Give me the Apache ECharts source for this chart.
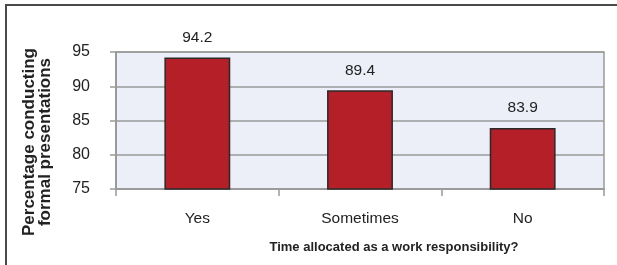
<!DOCTYPE html>
<html><head><meta charset="utf-8">
<script src="https://cdn.jsdelivr.net/npm/echarts@6/dist/echarts.min.js"></script>
<style>html,body{margin:0;padding:0;background:#fff;overflow:hidden;}#c{width:617px;height:265px;}</style>
</head><body><div id="c"></div>
<script>
const categories = ['Yes', 'Sometimes', 'No'];
const values = [94.2, 89.4, 83.9];
const yTicks = [75, 80, 85, 90, 95];
const yTitle = 'Percentage conducting\nformal presentations';
const xTitle = 'Time allocated as a work responsibility?';

const chart = echarts.init(document.getElementById('c'), null, {renderer: 'canvas'});
const ff = '"Liberation Sans", Arial, sans-serif';
chart.setOption({
  animation: false,
  grid: {left: 116, right: 13, top: 52, bottom: 76, show: true, backgroundColor: '#eceff7', borderColor: '#9a9a9a', borderWidth: 1.5},
  xAxis: {
    type: 'category', data: categories,
    axisLine: {lineStyle: {color: '#9a9a9a', width: 2}},
    axisTick: {show: true, length: 7, interval: 0, lineStyle: {color: '#9a9a9a', width: 1.5}},
    axisLabel: {color: '#222', fontFamily: ff, fontSize: 15.5, margin: 22}
  },
  yAxis: {
    type: 'value', min: yTicks[0], max: yTicks[yTicks.length - 1], interval: 5,
    axisLine: {show: true, lineStyle: {color: '#9a9a9a', width: 2}},
    axisTick: {show: true, length: 6, lineStyle: {color: '#9a9a9a', width: 1.5}},
    axisLabel: {color: '#222', fontFamily: ff, fontSize: 16, margin: 26},
    splitLine: {show: true, lineStyle: {color: '#9a9a9a', width: 1.5}}
  },
  series: [{
    type: 'bar', data: values, barWidth: '40.5%',
    itemStyle: {color: '#b51f28', borderColor: '#2a2a2a', borderWidth: 1.5},
    label: {show: true, position: 'top', distance: 12, color: '#222', fontFamily: ff, fontSize: 15.5}
  }],
  graphic: [
    {type: 'polyline', shape: {points: [[6, 270], [6, 5], [620, 5]]}, style: {fill: null, stroke: '#4a4a4a', lineWidth: 2}, silent: true},
    {type: 'text', x: 37, y: 142, rotation: Math.PI / 2, style: {text: yTitle, align: 'center', verticalAlign: 'middle', font: 'bold 17px "Liberation Sans", Arial, sans-serif', lineHeight: 16, fill: '#222'}},
    {type: 'text', x: 394, y: 247, style: {text: xTitle, align: 'center', verticalAlign: 'middle', font: 'bold 13px "Liberation Sans", Arial, sans-serif', fill: '#222'}}
  ]
});
</script></body></html>
